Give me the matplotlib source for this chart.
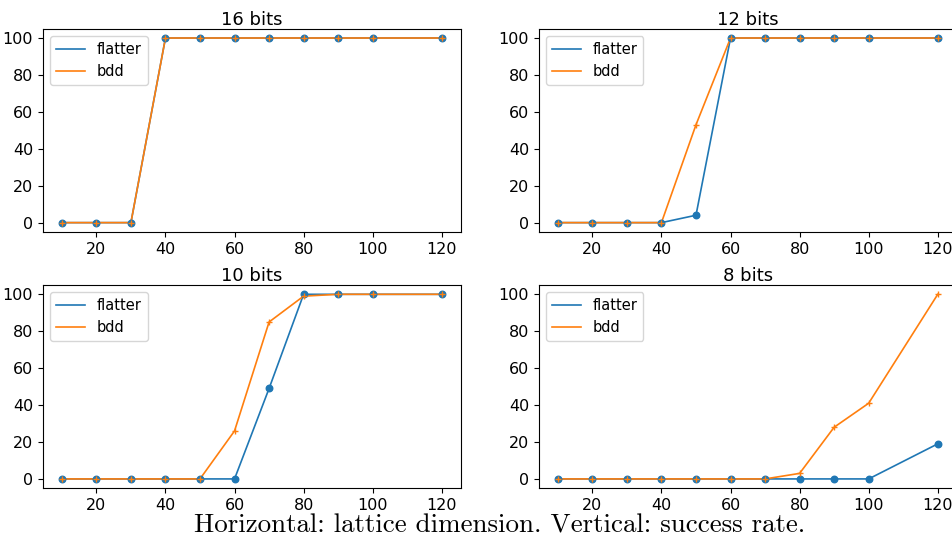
import matplotlib
matplotlib.use("Agg")
from matplotlib import pyplot as plt

# lattice dimensions
dims = [10, 20, 30, 40, 50, 60, 70, 80, 90, 100, 120]

# success rates (%) per bit size
flatter_16 = [0, 0, 0, 100, 100, 100, 100, 100, 100, 100, 100]
bdd_16 = [0, 0, 0, 100, 100, 100, 100, 100, 100, 100, 100]

flatter_12 = [0, 0, 0, 0, 4, 100, 100, 100, 100, 100, 100]
bdd_12 = [0, 0, 0, 0, 53, 100, 100, 100, 100, 100, 100]

flatter_10 = [0, 0, 0, 0, 0, 0, 49, 100, 100, 100, 100]
bdd_10 = [0, 0, 0, 0, 0, 26, 85, 99, 100, 100, 100]

flatter_8 = [0, 0, 0, 0, 0, 0, 0, 0, 0, 0, 19]
bdd_8 = [0, 0, 0, 0, 0, 0, 0, 3, 28, 41, 100]

titles = ["16 bits", "12 bits", "10 bits", "8 bits"]
flatter_all = [flatter_16, flatter_12, flatter_10, flatter_8]
bdd_all = [bdd_16, bdd_12, bdd_10, bdd_8]

fig = plt.figure(figsize=(9.52, 5.43), dpi=100)

# axes boxes in figure fraction (right column runs past the edge, as in the original crop)
boxes = [
    [0.045, 0.573, 0.439, 0.374],
    [0.566, 0.573, 0.439, 0.374],
    [0.045, 0.101, 0.439, 0.374],
    [0.566, 0.101, 0.439, 0.374],
]

for box, title, fl, bd in zip(boxes, titles, flatter_all, bdd_all):
    ax = fig.add_axes(box)
    ax.plot(dims, fl, color='C0', lw=1.2, label='flatter')
    ax.scatter(dims, fl, color='C0', marker='o', s=22, zorder=3)
    ax.plot(dims, bd, color='C1', lw=1.2, label='bdd')
    ax.scatter(dims, bd, color='C1', marker='+', s=22, lw=1, zorder=4)
    ax.set_title(title, fontsize=13, pad=3)
    ax.set_xticks([20, 40, 60, 80, 100, 120])
    ax.set_yticks([0, 20, 40, 60, 80, 100])
    ax.tick_params(labelsize=11.5)
    ax.legend(loc='upper left', fontsize=10.5)

fig.text(0.525, 0.020, 'Horizontal: lattice dimension. Vertical: success rate.',
         ha='center', va='baseline', fontsize=19.4, family='cmr10')

plt.savefig("out.png", dpi=100)
